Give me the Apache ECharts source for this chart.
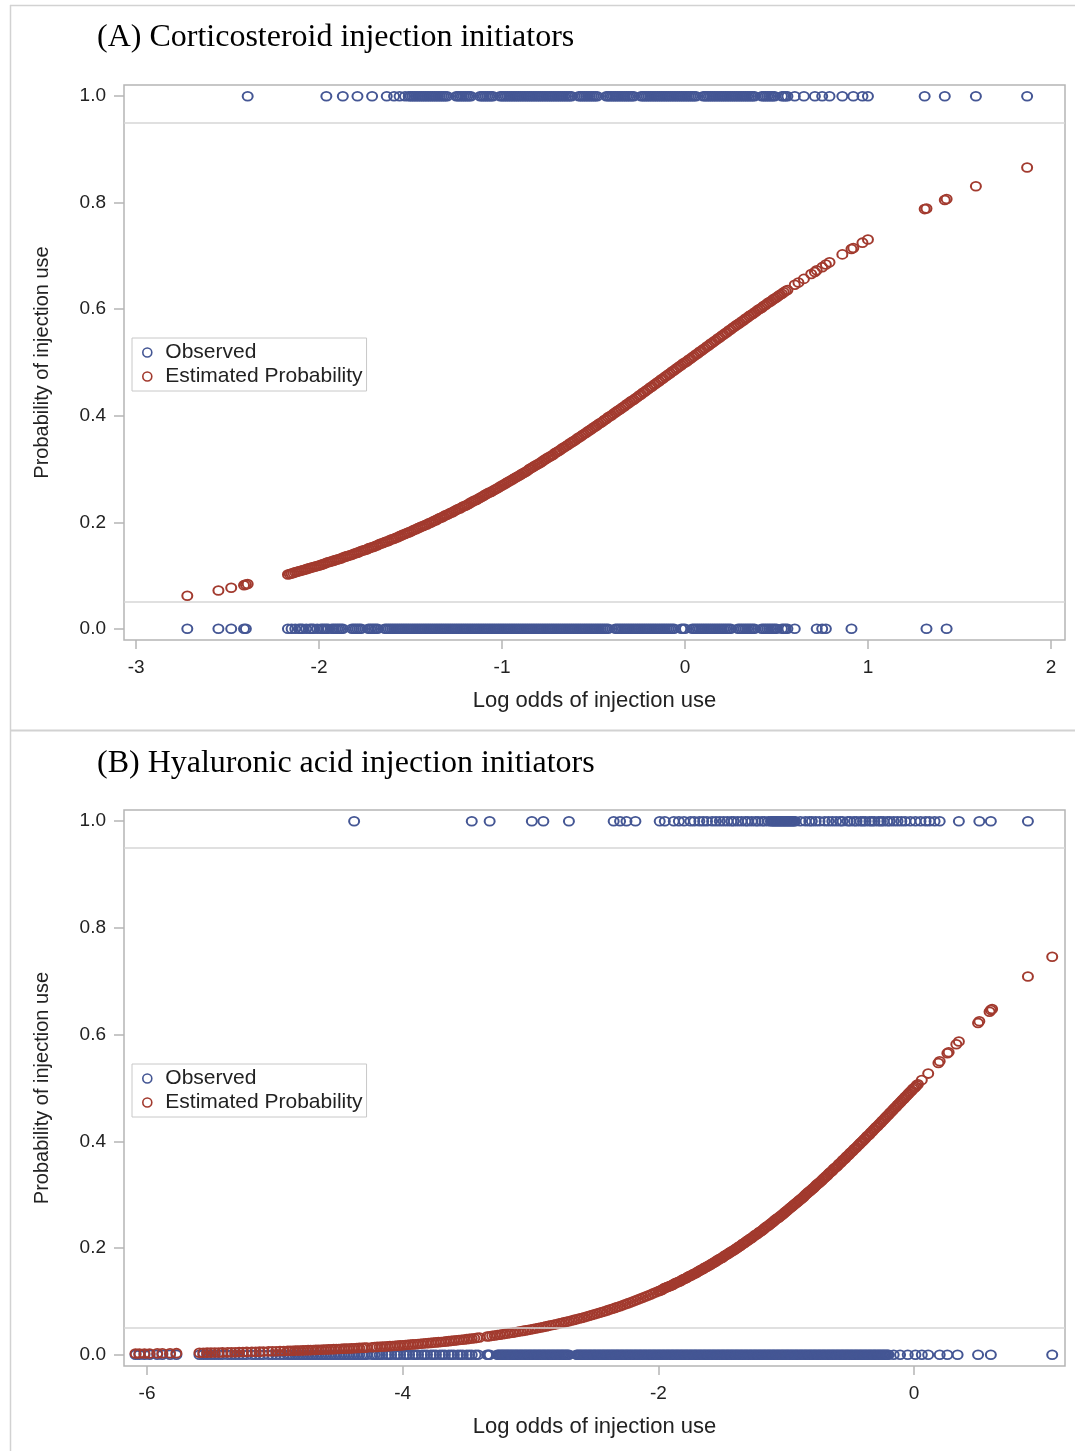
<!DOCTYPE html>
<html><head><meta charset="utf-8">
<script src="https://cdn.jsdelivr.net/npm/echarts@6/dist/echarts.min.js"></script>
<style>html,body{margin:0;padding:0;background:#fff}#chart{width:1075px;height:1451px}</style>
</head><body><div id="chart"></div>
<script>
const panelTitles = ['(A) Corticosteroid injection initiators', '(B) Hyaluronic acid injection initiators'];
const xAxisTitle = 'Log odds of injection use';
const yAxisTitle = 'Probability of injection use';
const seriesNames = ['Observed', 'Estimated Probability'];
const yTickValues = [0, 0.2, 0.4, 0.6, 0.8, 1.0];
const aXTicks = [-3, -2, -1, 0, 1, 2];
const bXTicks = [-6, -4, -2, 0];
const refLines = [0.05, 0.95];

// Panel A: observed outcomes (log odds of each subject), outcome = 1 (top) / 0 (bottom)
const aTopX = [-2.39,-1.96,-1.87,-1.79,-1.71,-1.63,-1.59,-1.56,-1.53,-1.51,
-1.5,-1.49,-1.48,-1.47,-1.46,-1.45,-1.44,-1.43,-1.42,-1.41,-1.4,-1.39,-1.38,-1.37,-1.36,-1.35,-1.34,-1.33,-1.32,-1.31,-1.3,
-1.25,-1.24,-1.23,-1.22,-1.21,-1.2,-1.19,-1.18,-1.17,
-1.12,-1.11,-1.1,-1.09,-1.08,-1.07,-1.06,-1.05,
-1.01,-1,-0.99,-0.98,-0.97,-0.96,-0.95,-0.94,-0.93,-0.92,-0.91,-0.9,-0.89,-0.88,-0.87,-0.86,-0.85,-0.84,-0.83,-0.82,-0.81,-0.8,-0.79,-0.78,-0.77,-0.76,-0.75,-0.74,-0.73,-0.72,-0.71,-0.7,-0.69,-0.68,-0.67,-0.66,-0.65,-0.64,-0.63,-0.62,
-0.58,-0.57,-0.56,-0.55,-0.54,-0.53,-0.52,-0.51,-0.5,-0.49,-0.48,
-0.43,-0.42,-0.41,-0.4,-0.39,-0.38,-0.37,-0.36,-0.35,-0.34,-0.33,-0.32,-0.31,-0.3,-0.29,-0.28,
-0.24,-0.23,-0.22,-0.21,-0.2,-0.19,-0.18,-0.17,-0.16,-0.15,-0.14,-0.13,-0.12,-0.11,-0.1,-0.09,-0.08,-0.07,-0.06,-0.05,-0.04,-0.03,-0.02,-0.01,0,0.01,0.02,0.03,0.04,0.05,0.06,
0.1,0.11,0.12,0.13,0.14,0.15,0.16,0.17,0.18,0.19,0.2,0.21,0.22,0.23,0.24,0.25,0.26,0.27,0.28,0.29,0.3,0.31,0.32,0.33,0.34,0.35,0.36,0.37,0.38,
0.42,0.43,0.44,0.45,0.46,0.47,0.48,0.49,
0.53,0.54,0.55,0.56,
0.6,0.65,0.71,0.75,0.79,0.86,0.92,0.97,1,1.31,1.42,1.59,1.87];

const aBottomX = [-2.72,-2.55,-2.48,-2.41,-2.4,-2.17,
-2.15,-2.13,-2.11,-2.1,-2.09,-2.07,-2.05,-2.04,-2.03,-2.01,-1.99,-1.98,-1.97,-1.96,-1.95,-1.93,-1.92,-1.91,-1.9,-1.89,-1.88,-1.87,
-1.82,-1.81,-1.8,-1.79,-1.78,-1.77,
-1.73,-1.72,-1.71,-1.7,-1.69,-1.68,
-1.64,-1.63,-1.62,-1.61,-1.6,-1.59,-1.58,-1.57,-1.56,-1.55,-1.54,-1.53,-1.52,-1.51,-1.5,-1.49,-1.48,-1.47,-1.46,-1.45,-1.44,-1.43,-1.42,-1.41,-1.4,-1.39,-1.38,-1.37,-1.36,-1.35,-1.34,-1.33,-1.32,-1.31,-1.3,-1.29,-1.28,-1.27,-1.26,-1.25,-1.24,-1.23,-1.22,-1.21,-1.2,-1.19,-1.18,-1.17,-1.16,-1.15,-1.14,-1.13,-1.12,-1.11,-1.1,-1.09,-1.08,-1.07,-1.06,-1.05,-1.04,-1.03,-1.02,-1.01,-1,
-0.99,-0.98,-0.97,-0.96,-0.95,-0.94,-0.93,-0.92,-0.91,-0.9,-0.89,-0.88,-0.87,-0.86,-0.85,-0.84,-0.83,-0.82,-0.81,-0.8,-0.79,-0.78,-0.77,-0.76,-0.75,-0.74,-0.73,-0.72,-0.71,-0.7,-0.69,-0.68,-0.67,-0.66,-0.65,-0.64,-0.63,-0.62,-0.61,-0.6,-0.59,-0.58,-0.57,-0.56,-0.55,-0.54,-0.53,-0.52,-0.51,-0.5,-0.49,-0.48,-0.47,-0.46,-0.45,-0.44,-0.43,-0.42,
-0.38,-0.37,-0.36,-0.35,-0.34,-0.33,-0.32,-0.31,-0.3,-0.29,-0.28,-0.27,-0.26,-0.25,-0.24,-0.23,-0.22,-0.21,-0.2,-0.19,-0.18,-0.17,-0.16,-0.15,-0.14,-0.13,-0.12,-0.11,-0.1,-0.09,-0.08,-0.07,-0.06,
-0.02,-0.01,0,
0.04,0.05,0.06,0.07,0.08,0.09,0.1,0.11,0.12,0.13,0.14,0.15,0.16,0.17,0.18,0.19,0.2,0.21,0.22,0.23,0.24,0.25,
0.29,0.3,0.31,0.32,0.33,0.34,0.35,0.36,0.37,0.38,
0.42,0.43,0.44,0.45,0.46,0.47,0.48,0.49,0.5,
0.53,0.54,0.55,0.56,
0.6,0.72,0.75,0.77,0.91,1.32,1.43];

// Panel A: estimated probability [log odds, probability]
const aEstimated = [
[-2.72,.062],[-2.55,.072],[-2.48,.077],[-2.41,.082],[-2.4,.083],[-2.39,.084],[-2.17,.102],[-2.16,.103],
[-2.15,.104],[-2.14,.105],[-2.13,.106],[-2.12,.107],[-2.11,.108],[-2.1,.109],[-2.09,.11],[-2.08,.111],[-2.07,.112],[-2.06,.113],[-2.05,.114],[-2.04,.115],[-2.03,.116],[-2.02,.117],[-2.01,.118],[-2,.119],
[-1.99,.12],[-1.98,.121],[-1.97,.122],[-1.96,.124],[-1.95,.125],[-1.94,.126],[-1.93,.127],[-1.92,.128],[-1.91,.129],[-1.9,.13],
[-1.89,.131],[-1.88,.132],[-1.87,.134],[-1.86,.135],[-1.85,.136],[-1.84,.137],[-1.83,.138],[-1.82,.139],[-1.81,.141],[-1.8,.142],
[-1.79,.143],[-1.78,.144],[-1.77,.146],[-1.76,.147],[-1.75,.148],[-1.74,.149],[-1.73,.151],[-1.72,.152],[-1.71,.153],[-1.7,.154],
[-1.69,.156],[-1.68,.157],[-1.67,.159],[-1.66,.16],[-1.65,.161],[-1.64,.163],[-1.63,.164],[-1.62,.165],[-1.61,.167],[-1.6,.168],
[-1.59,.169],[-1.58,.171],[-1.57,.172],[-1.56,.174],[-1.55,.175],[-1.54,.177],[-1.53,.178],[-1.52,.18],[-1.51,.181],[-1.5,.182],
[-1.49,.184],[-1.48,.186],[-1.47,.187],[-1.46,.189],[-1.45,.19],[-1.44,.192],[-1.43,.193],[-1.42,.195],[-1.41,.196],[-1.4,.198],
[-1.39,.199],[-1.38,.201],[-1.37,.203],[-1.36,.204],[-1.35,.206],[-1.34,.208],[-1.33,.209],[-1.32,.211],[-1.31,.213],[-1.3,.214],
[-1.29,.216],[-1.28,.218],[-1.27,.219],[-1.26,.221],[-1.25,.223],[-1.24,.225],[-1.23,.226],[-1.22,.228],[-1.21,.23],[-1.2,.231],
[-1.19,.233],[-1.18,.235],[-1.17,.237],[-1.16,.239],[-1.15,.241],[-1.14,.242],[-1.13,.244],[-1.12,.246],[-1.11,.248],[-1.1,.25],
[-1.09,.252],[-1.08,.254],[-1.07,.256],[-1.06,.257],[-1.05,.259],[-1.04,.261],[-1.03,.263],[-1.02,.265],[-1.01,.267],[-1,.269],
[-0.99,.271],[-0.98,.273],[-0.97,.275],[-0.96,.277],[-0.95,.279],[-0.94,.281],[-0.93,.283],[-0.92,.285],[-0.91,.287],[-0.9,.289],
[-0.89,.291],[-0.88,.293],[-0.87,.295],[-0.86,.297],[-0.85,.3],[-0.84,.302],[-0.83,.304],[-0.82,.306],[-0.81,.308],[-0.8,.31],
[-0.79,.312],[-0.78,.314],[-0.77,.317],[-0.76,.319],[-0.75,.321],[-0.74,.323],[-0.73,.325],[-0.72,.327],[-0.71,.33],[-0.7,.332],
[-0.69,.334],[-0.68,.336],[-0.67,.339],[-0.66,.341],[-0.65,.343],[-0.64,.345],[-0.63,.348],[-0.62,.35],[-0.61,.352],[-0.6,.354],
[-0.59,.357],[-0.58,.359],[-0.57,.361],[-0.56,.364],[-0.55,.366],[-0.54,.368],[-0.53,.371],[-0.52,.373],[-0.51,.375],[-0.5,.378],
[-0.49,.38],[-0.48,.382],[-0.47,.385],[-0.46,.387],[-0.45,.389],[-0.44,.392],[-0.43,.394],[-0.42,.397],[-0.41,.399],[-0.4,.401],
[-0.39,.404],[-0.38,.406],[-0.37,.409],[-0.36,.411],[-0.35,.413],[-0.34,.416],[-0.33,.418],[-0.32,.421],[-0.31,.423],[-0.3,.426],
[-0.29,.428],[-0.28,.43],[-0.27,.433],[-0.26,.435],[-0.25,.438],[-0.24,.44],[-0.23,.443],[-0.22,.445],[-0.21,.448],[-0.2,.45],
[-0.19,.453],[-0.18,.455],[-0.17,.458],[-0.16,.46],[-0.15,.463],[-0.14,.465],[-0.13,.468],[-0.12,.47],[-0.11,.473],[-0.1,.475],
[-0.09,.478],[-0.08,.48],[-0.07,.483],[-0.06,.485],[-0.05,.488],[-0.04,.49],[-0.03,.493],[-0.02,.495],[-0.01,.498],[0,.5],
[0.01,.502],[0.02,.505],[0.03,.507],[0.04,.51],[0.05,.512],[0.06,.515],[0.07,.517],[0.08,.52],[0.09,.522],[0.1,.525],
[0.11,.527],[0.12,.53],[0.13,.532],[0.14,.535],[0.15,.537],[0.16,.54],[0.17,.542],[0.18,.545],[0.19,.547],[0.2,.55],
[0.21,.552],[0.22,.555],[0.23,.557],[0.24,.56],[0.25,.562],[0.26,.565],[0.27,.567],[0.28,.57],[0.29,.572],[0.3,.574],
[0.31,.577],[0.32,.579],[0.33,.582],[0.34,.584],[0.35,.587],[0.36,.589],[0.37,.591],[0.38,.594],[0.39,.596],[0.4,.599],
[0.41,.601],[0.42,.603],[0.43,.606],[0.44,.608],[0.45,.611],[0.46,.613],[0.47,.615],[0.48,.618],[0.49,.62],[0.5,.622],
[0.51,.625],[0.52,.627],[0.53,.629],[0.54,.632],[0.55,.634],[0.56,.636],
[0.6,.646],[0.62,.65],[0.65,.657],[0.69,.666],[0.71,.67],[0.72,.673],[0.75,.679],[0.77,.684],[0.79,.688],[0.86,.703],[0.91,.713],[0.92,.715],[0.97,.725],[1,.731],[1.31,.788],[1.32,.789],[1.42,.805],[1.43,.807],[1.59,.831],[1.87,.866]];

// Panel B: observed outcomes
const bTopX = [-4.38,-3.46,-3.32,-2.99,-2.9,-2.7,-2.35,-2.3,-2.25,-2.18,-1.99,-1.95,-1.88,-1.84,-1.8,-1.75,-1.72,-1.68,-1.65,-1.62,-1.58,-1.55,-1.52,-1.49,-1.46,-1.43,-1.41,-1.38,-1.35,-1.32,-1.3,-1.27,-1.24,-1.22,-1.19,-1.17,-1.14,-1.12,
-1.11,-1.1,-1.09,-1.08,-1.07,-1.06,-1.05,-1.04,-1.03,-1.02,-1.01,-1,-0.99,-0.98,-0.97,-0.96,-0.95,-0.94,
-0.93,-0.89,-0.85,-0.82,-0.8,-0.77,-0.74,-0.7,-0.67,-0.64,-0.61,-0.58,-0.56,-0.52,-0.5,-0.47,-0.45,-0.42,-0.4,-0.38,-0.35,-0.33,-0.31,-0.28,-0.26,-0.24,-0.21,-0.19,-0.16,-0.13,-0.1,-0.07,-0.03,0.01,0.05,0.09,0.12,0.16,0.2,0.35,0.51,0.6,0.89];

const bBottomX = [-6.09,-6.06,-6.02,-5.98,-5.92,-5.88,-5.82,-5.77,
-5.59,-5.56,-5.53,-5.5,-5.47,-5.44,-5.41,-5.37,-5.34,-5.31,-5.28,-5.25,-5.22,
-5.18,-5.15,-5.12,-5.09,-5.05,-5.02,-4.99,-4.96,-4.93,-4.9,
-4.88,-4.86,-4.84,-4.82,-4.8,-4.78,-4.76,-4.74,-4.72,-4.7,-4.68,-4.66,-4.64,-4.62,-4.6,-4.58,-4.56,-4.54,-4.52,-4.5,-4.48,-4.46,-4.44,-4.42,-4.4,-4.38,-4.36,-4.34,-4.32,-4.3,-4.28,
-4.24,-4.22,-4.2,-4.18,-4.16,-4.13,-4.11,-4.09,-4.06,-4.04,-4.02,-3.99,-3.97,-3.95,-3.92,-3.9,-3.88,-3.85,-3.83,-3.81,-3.78,-3.76,-3.74,-3.71,-3.69,-3.67,-3.64,-3.62,-3.6,-3.57,-3.55,-3.53,-3.5,-3.48,-3.46,-3.43,-3.41,
-3.34,-3.33,-3.32,
-3.26,-3.25,-3.24,-3.23,-3.22,-3.21,-3.2,-3.19,-3.18,-3.17,-3.16,-3.15,-3.14,-3.13,-3.12,-3.11,-3.1,-3.09,-3.08,-3.07,-3.06,-3.05,-3.04,-3.03,-3.02,-3.01,-3,
-2.99,-2.98,-2.97,-2.96,-2.95,-2.94,-2.93,-2.92,-2.91,-2.9,-2.89,-2.88,-2.87,-2.86,-2.85,-2.84,-2.83,-2.82,-2.81,-2.8,-2.79,-2.78,-2.77,-2.76,-2.75,-2.74,-2.73,-2.72,-2.71,-2.7,
-2.64,-2.63,-2.62,-2.61,-2.6,-2.59,-2.58,-2.57,-2.56,-2.55,-2.54,-2.53,-2.52,-2.51,-2.5,-2.49,-2.48,-2.47,-2.46,-2.45,-2.44,-2.43,-2.42,-2.41,-2.4,-2.39,-2.38,-2.37,-2.36,-2.35,-2.34,-2.33,-2.32,-2.31,-2.3,-2.29,-2.28,-2.27,-2.26,-2.25,-2.24,-2.23,-2.22,-2.21,-2.2,-2.19,-2.18,-2.17,-2.16,-2.15,-2.14,-2.13,-2.12,-2.11,-2.1,-2.09,-2.08,-2.07,-2.06,-2.05,-2.04,-2.03,-2.02,-2.01,-2,
-1.99,-1.98,-1.97,-1.96,-1.95,-1.94,-1.93,-1.92,-1.91,-1.9,-1.89,-1.88,-1.87,-1.86,-1.85,-1.84,-1.83,-1.82,-1.81,-1.8,-1.79,-1.78,-1.77,-1.76,-1.75,-1.74,-1.73,-1.72,-1.71,-1.7,-1.69,-1.68,-1.67,-1.66,-1.65,-1.64,-1.63,-1.62,-1.61,-1.6,-1.59,-1.58,-1.57,-1.56,-1.55,-1.54,-1.53,-1.52,-1.51,-1.5,
-1.49,-1.48,-1.47,-1.46,-1.45,-1.44,-1.43,-1.42,-1.41,-1.4,-1.39,-1.38,-1.37,-1.36,-1.35,-1.34,-1.33,-1.32,-1.31,-1.3,-1.29,-1.28,-1.27,-1.26,-1.25,-1.24,-1.23,-1.22,-1.21,-1.2,-1.19,-1.18,-1.17,-1.16,-1.15,-1.14,-1.13,-1.12,-1.11,-1.1,-1.09,-1.08,-1.07,-1.06,-1.05,-1.04,-1.03,-1.02,-1.01,-1,
-0.99,-0.98,-0.97,-0.96,-0.95,-0.94,-0.93,-0.92,-0.91,-0.9,-0.89,-0.88,-0.87,-0.86,-0.85,-0.84,-0.83,-0.82,-0.81,-0.8,-0.79,-0.78,-0.77,-0.76,-0.75,-0.74,-0.73,-0.72,-0.71,-0.7,-0.69,-0.68,-0.67,-0.66,-0.65,-0.64,-0.63,-0.62,-0.61,-0.6,
-0.59,-0.58,-0.57,-0.56,-0.55,-0.54,-0.53,-0.52,-0.51,-0.5,-0.49,-0.48,-0.47,-0.46,-0.45,-0.44,-0.43,-0.42,-0.41,-0.4,-0.39,-0.38,-0.37,-0.36,-0.35,-0.34,-0.33,-0.32,-0.31,-0.3,-0.29,-0.28,-0.27,-0.26,-0.25,-0.24,-0.23,-0.22,-0.21,-0.2,
-0.16,-0.11,-0.05,0.01,0.06,0.11,0.2,0.26,0.34,0.5,0.6,1.08];

// Panel B: estimated probability [log odds, probability]
const bEstimated = [
[-6.09,.0023],[-6.06,.0023],[-6.02,.0024],[-5.98,.0025],[-5.92,.0027],[-5.88,.0028],[-5.82,.003],[-5.77,.0031],
[-5.59,.0037],[-5.56,.0038],[-5.53,.004],[-5.5,.0041],[-5.47,.0042],[-5.44,.0043],[-5.41,.0045],[-5.37,.0046],[-5.34,.0048],[-5.31,.0049],[-5.28,.0051],[-5.25,.0052],[-5.22,.0054],
[-5.18,.0056],[-5.15,.0058],[-5.12,.0059],[-5.09,.0061],[-5.05,.0064],[-5.02,.0066],[-4.99,.0068],[-4.96,.007],[-4.93,.0072],[-4.9,.0074],
[-4.88,.0075],[-4.86,.0077],[-4.84,.0079],[-4.82,.008],[-4.8,.0082],[-4.78,.0083],[-4.76,.0085],[-4.74,.0087],[-4.72,.0088],[-4.7,.009],[-4.68,.0092],[-4.66,.0094],[-4.64,.0096],[-4.62,.0098],[-4.6,.01],[-4.58,.0102],[-4.56,.0104],[-4.54,.0106],[-4.52,.0108],[-4.5,.011],[-4.48,.0112],[-4.46,.0115],[-4.44,.0117],[-4.42,.0119],[-4.4,.0121],[-4.38,.0124],[-4.36,.0126],[-4.34,.0129],[-4.32,.0131],[-4.3,.0134],[-4.28,.0137],
[-4.24,.0142],[-4.22,.0145],[-4.2,.0148],[-4.18,.0151],[-4.16,.0154],[-4.14,.0157],[-4.12,.016],[-4.1,.0163],[-4.08,.0166],[-4.06,.017],[-4.04,.0173],[-4.02,.0176],[-4,.018],[-3.98,.0184],[-3.96,.0187],[-3.94,.0191],[-3.92,.0195],[-3.9,.0198],[-3.88,.0202],[-3.86,.0207],[-3.84,.0211],[-3.82,.0215],[-3.8,.0219],[-3.78,.0223],[-3.76,.0228],[-3.74,.0232],[-3.72,.0237],[-3.7,.0241],[-3.68,.0246],[-3.66,.0251],[-3.64,.0256],[-3.62,.0261],[-3.6,.0266],[-3.58,.0271],[-3.56,.0277],[-3.54,.0282],[-3.52,.0288],[-3.5,.0293],[-3.48,.0299],[-3.46,.0305],[-3.44,.0311],[-3.42,.0317],[-3.4,.0323],
[-3.34,.0343],[-3.32,.0349],[-3.3,.0356],[-3.28,.0363],[-3.26,.037],[-3.24,.0377],[-3.22,.0384],[-3.2,.0392],[-3.18,.04],[-3.16,.0407],[-3.14,.0415],[-3.12,.0423],[-3.1,.0431],[-3.08,.044],[-3.06,.0448],[-3.04,.0457],[-3.02,.0466],[-3,.0474],
[-2.98,.0484],[-2.96,.0493],[-2.94,.0503],[-2.92,.0512],[-2.9,.0522],[-2.88,.0532],[-2.86,.0542],[-2.84,.0553],[-2.82,.0563],[-2.8,.0573],[-2.78,.0585],[-2.76,.0596],[-2.74,.0607],[-2.72,.0618],[-2.7,.063],[-2.68,.0642],[-2.66,.0654],[-2.64,.0667],[-2.62,.0679],[-2.6,.0691],
[-2.58,.0705],[-2.56,.0718],[-2.54,.0732],[-2.52,.0745],[-2.5,.0759],[-2.48,.0773],[-2.46,.0788],[-2.44,.0802],[-2.42,.0817],[-2.4,.0832],[-2.38,.0848],[-2.36,.0864],[-2.34,.0879],[-2.32,.0895],[-2.3,.0911],[-2.28,.0928],[-2.26,.0946],[-2.24,.0963],[-2.22,.098],[-2.2,.0998],
[-2.18,.1016],[-2.16,.1035],[-2.14,.1054],[-2.12,.1072],[-2.1,.1091],[-2.08,.1111],[-2.06,.1131],[-2.04,.1152],[-2.02,.1172],[-2,.1192],
[-1.99,.12],[-1.98,.121],[-1.97,.122],[-1.96,.124],[-1.95,.125],[-1.94,.126],[-1.93,.127],[-1.92,.128],[-1.91,.129],[-1.9,.13],
[-1.89,.131],[-1.88,.132],[-1.87,.134],[-1.86,.135],[-1.85,.136],[-1.84,.137],[-1.83,.138],[-1.82,.139],[-1.81,.141],[-1.8,.142],
[-1.79,.143],[-1.78,.144],[-1.77,.146],[-1.76,.147],[-1.75,.148],[-1.74,.149],[-1.73,.151],[-1.72,.152],[-1.71,.153],[-1.7,.154],
[-1.69,.156],[-1.68,.157],[-1.67,.159],[-1.66,.16],[-1.65,.161],[-1.64,.163],[-1.63,.164],[-1.62,.165],[-1.61,.167],[-1.6,.168],
[-1.59,.169],[-1.58,.171],[-1.57,.172],[-1.56,.174],[-1.55,.175],[-1.54,.177],[-1.53,.178],[-1.52,.18],[-1.51,.181],[-1.5,.182],
[-1.49,.184],[-1.48,.186],[-1.47,.187],[-1.46,.189],[-1.45,.19],[-1.44,.192],[-1.43,.193],[-1.42,.195],[-1.41,.196],[-1.4,.198],
[-1.39,.199],[-1.38,.201],[-1.37,.203],[-1.36,.204],[-1.35,.206],[-1.34,.208],[-1.33,.209],[-1.32,.211],[-1.31,.213],[-1.3,.214],
[-1.29,.216],[-1.28,.218],[-1.27,.219],[-1.26,.221],[-1.25,.223],[-1.24,.225],[-1.23,.226],[-1.22,.228],[-1.21,.23],[-1.2,.231],
[-1.19,.233],[-1.18,.235],[-1.17,.237],[-1.16,.239],[-1.15,.241],[-1.14,.242],[-1.13,.244],[-1.12,.246],[-1.11,.248],[-1.1,.25],
[-1.09,.252],[-1.08,.254],[-1.07,.256],[-1.06,.257],[-1.05,.259],[-1.04,.261],[-1.03,.263],[-1.02,.265],[-1.01,.267],[-1,.269],
[-0.99,.271],[-0.98,.273],[-0.97,.275],[-0.96,.277],[-0.95,.279],[-0.94,.281],[-0.93,.283],[-0.92,.285],[-0.91,.287],[-0.9,.289],
[-0.89,.291],[-0.88,.293],[-0.87,.295],[-0.86,.297],[-0.85,.3],[-0.84,.302],[-0.83,.304],[-0.82,.306],[-0.81,.308],[-0.8,.31],
[-0.79,.312],[-0.78,.314],[-0.77,.317],[-0.76,.319],[-0.75,.321],[-0.74,.323],[-0.73,.325],[-0.72,.327],[-0.71,.33],[-0.7,.332],
[-0.69,.334],[-0.68,.336],[-0.67,.339],[-0.66,.341],[-0.65,.343],[-0.64,.345],[-0.63,.348],[-0.62,.35],[-0.61,.352],[-0.6,.354],
[-0.59,.357],[-0.58,.359],[-0.57,.361],[-0.56,.364],[-0.55,.366],[-0.54,.368],[-0.53,.371],[-0.52,.373],[-0.51,.375],[-0.5,.378],
[-0.49,.38],[-0.48,.382],[-0.47,.385],[-0.46,.387],[-0.45,.389],[-0.44,.392],[-0.43,.394],[-0.42,.397],[-0.41,.399],[-0.4,.401],
[-0.39,.404],[-0.38,.406],[-0.37,.409],[-0.36,.411],[-0.35,.413],[-0.34,.416],[-0.33,.418],[-0.32,.421],[-0.31,.423],[-0.3,.426],
[-0.29,.428],[-0.28,.43],[-0.27,.433],[-0.26,.435],[-0.25,.438],[-0.24,.44],[-0.23,.443],[-0.22,.445],[-0.21,.448],[-0.2,.45],
[-0.19,.453],[-0.18,.455],[-0.17,.458],[-0.16,.46],[-0.15,.463],[-0.14,.465],[-0.13,.468],[-0.12,.47],[-0.11,.473],[-0.1,.475],
[-0.09,.478],[-0.08,.48],[-0.07,.483],[-0.06,.485],[-0.05,.488],[-0.04,.49],[-0.03,.493],[-0.02,.495],[-0.01,.498],[0,.5],
[0.01,.502],[0.02,.505],[0.03,.507],
[0.06,.515],[0.11,.527],[0.19,.547],[0.2,.55],[0.26,.565],[0.27,.567],[0.33,.582],[0.35,.587],[0.5,.622],[0.51,.625],[0.59,.643],[0.6,.646],[0.61,.648],[0.89,.709],[1.08,.746]];

const colors = { observed: '#445694', estimated: '#A23A2E' };

function observedData(topX, bottomX) {
  return topX.map(x => [x, 1]).concat(bottomX.map(x => [x, 0]));
}

const frameColor = '#b5b5b5';
const sans = 'Liberation Sans, Arial, sans-serif';

function xAxisDef(gridIndex, min, max, ticks) {
  return {
    type: 'value', gridIndex, min, max,
    name: xAxisTitle, nameLocation: 'middle', nameGap: 50,
    nameTextStyle: { fontFamily: sans, fontSize: 22, color: '#222' },
    axisLine: { show: false, onZero: false },
    splitLine: { show: false },
    axisTick: { show: true, customValues: ticks, length: 9, lineStyle: { color: frameColor, width: 1.5 } },
    axisLabel: { customValues: ticks, fontFamily: sans, fontSize: 19, color: '#222', margin: 18,
      formatter: v => String(v) }
  };
}
function yAxisDef(gridIndex) {
  return {
    type: 'value', gridIndex, min: -0.021, max: 1.021,
    name: yAxisTitle, nameLocation: 'middle', nameGap: 72,
    nameTextStyle: { fontFamily: sans, fontSize: 20, color: '#222' },
    axisLine: { show: false, onZero: false },
    splitLine: { show: false },
    axisTick: { show: true, customValues: yTickValues, length: 10, lineStyle: { color: frameColor, width: 1.5 } },
    axisLabel: { customValues: yTickValues, fontFamily: sans, fontSize: 19, color: '#222', margin: 18,
      formatter: v => v.toFixed(1) }
  };
}
function scatterDef(name, idx, data, color, z, withRef) {
  const s = {
    type: 'scatter', name, xAxisIndex: idx, yAxisIndex: idx, data,
    symbol: 'circle', symbolSize: [10, 8.8], z, silent: true, large: false, progressive: 0,
    itemStyle: { color: 'rgba(0,0,0,0)', borderColor: color, borderWidth: 1.9, opacity: 1 },
    emphasis: { disabled: true }
  };
  if (withRef) {
    s.markLine = {
      silent: true, symbol: 'none', animation: false, label: { show: false },
      lineStyle: { color: '#d6d6d6', width: 1.5, type: 'solid', opacity: 1 },
      data: refLines.map(v => ({ yAxis: v }))
    };
  }
  return s;
}
function legendDef(top) {
  return {
    left: 132, top, orient: 'vertical', padding: [4, 4, 4, 10], itemGap: 3,
    itemWidth: 26, itemHeight: 9, borderColor: '#c8c8c8', borderWidth: 1,
    selectedMode: false,
    textStyle: { fontFamily: sans, fontSize: 21, color: '#222' },
    data: [
      { name: seriesNames[0], icon: 'circle', itemStyle: { color: 'rgba(0,0,0,0)', borderColor: colors.observed, borderWidth: 1.6, opacity: 1 } },
      { name: seriesNames[1], icon: 'circle', itemStyle: { color: 'rgba(0,0,0,0)', borderColor: colors.estimated, borderWidth: 1.6, opacity: 1 } }
    ]
  };
}

const option = {
  animation: false,
  backgroundColor: '#ffffff',
  title: [
    { text: panelTitles[0], left: 97, top: 22, padding: 0, textStyle: { fontFamily: 'Liberation Serif, Times New Roman, serif', fontSize: 32, fontWeight: 'normal', color: '#000' } },
    { text: panelTitles[1], left: 97, top: 748, padding: 0, textStyle: { fontFamily: 'Liberation Serif, Times New Roman, serif', fontSize: 32, fontWeight: 'normal', color: '#000' } }
  ],
  legend: [legendDef(338), legendDef(1064)],
  grid: [
    { left: 124, top: 85, width: 941, height: 555, show: true, borderColor: frameColor, borderWidth: 1.5, backgroundColor: 'transparent' },
    { left: 124, top: 810, width: 941, height: 556, show: true, borderColor: frameColor, borderWidth: 1.5, backgroundColor: 'transparent' }
  ],
  xAxis: [xAxisDef(0, -3.066, 2.077, aXTicks), xAxisDef(1, -6.18, 1.18, bXTicks)],
  yAxis: [yAxisDef(0), yAxisDef(1)],
  series: [
    scatterDef(seriesNames[0], 0, observedData(aTopX, aBottomX), colors.observed, 2, true),
    scatterDef(seriesNames[1], 0, aEstimated, colors.estimated, 3, false),
    scatterDef(seriesNames[0], 1, observedData(bTopX, bBottomX), colors.observed, 2, true),
    scatterDef(seriesNames[1], 1, bEstimated, colors.estimated, 3, false)
  ],
  graphic: [
    { type: 'line', silent: true, shape: { x1: 10, y1: 5.5, x2: 1075, y2: 5.5 }, style: { stroke: '#d2d2d2', lineWidth: 1.5 } },
    { type: 'line', silent: true, shape: { x1: 10.5, y1: 5, x2: 10.5, y2: 1451 }, style: { stroke: '#d2d2d2', lineWidth: 1.5 } },
    { type: 'line', silent: true, shape: { x1: 10, y1: 730.5, x2: 1075, y2: 730.5 }, style: { stroke: '#d2d2d2', lineWidth: 2 } }
  ]
};

const chart = echarts.init(document.getElementById('chart'), null, { renderer: 'canvas' });
chart.setOption(option);
</script>
</body></html>
